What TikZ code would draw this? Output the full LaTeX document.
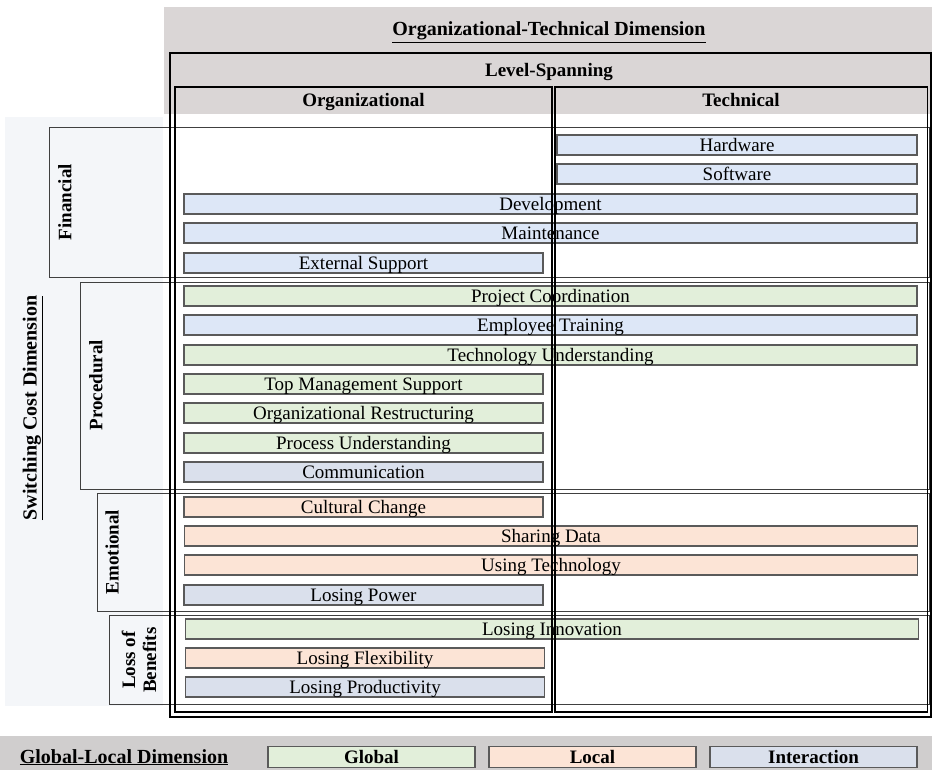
\documentclass[tikz,border=0pt]{standalone}
\usepackage{fontspec}
\setmainfont{Liberation Serif}
\definecolor{bandgray}{HTML}{DAD6D6}
\definecolor{keygray}{HTML}{D0CECE}
\definecolor{panel}{HTML}{F4F6F9}
\definecolor{finblue}{HTML}{DDE7F7}
\definecolor{globalgreen}{HTML}{E2EFDA}
\definecolor{localpink}{HTML}{FCE4D6}
\definecolor{interblue}{HTML}{DAE0EC}
\definecolor{barline}{HTML}{5A5A5A}
\definecolor{rowline}{HTML}{404040}
\begin{document}
\begin{tikzpicture}[x=1pt,y=-1pt,
  bar/.style={draw=barline, line width=1.3pt, inner sep=0pt, minimum height=20pt,
    text height=14.5pt, text depth=1pt, font=\fontsize{19}{20}\selectfont},
  fullbar/.style={bar, minimum width=733pt},
  orgbar/.style={bar, minimum width=359pt},
  techbar/.style={bar, minimum width=360pt},
  fin/.style={fill=finblue},
  glob/.style={fill=globalgreen},
  loc/.style={fill=localpink},
  inter/.style={fill=interblue},
  head/.style={font=\bfseries\fontsize{19}{21}\selectfont, inner sep=0pt,
    text height=14pt, text depth=2pt},
  bighead/.style={head, font=\bfseries\fontsize{20}{22}\selectfont},
  rowlabel/.style={font=\bfseries\fontsize{19}{21}\selectfont, inner sep=0pt, rotate=90, align=center},
  rowbox/.style={draw=rowline, line width=0.8pt},
  colbox/.style={draw=black, line width=1.4pt},
  keybox/.style={draw=barline, line width=1.3pt, minimum width=207pt, minimum height=21pt,
    inner sep=0pt, text height=14pt, text depth=1pt, font=\bfseries\fontsize{19}{20}\selectfont}
]
\useasboundingbox (0,0) rectangle (932,770);

% background panels
\fill[bandgray] (164,7) rectangle (932,114);
\fill[panel] (5,117) rectangle (163,706);
\fill[keygray] (0,736) rectangle (932,770);

% headings of the organizational-technical dimension
\node[bighead] (title) at (549,30) {\underline{Organizational-Technical Dimension}};
\node[head] (lspan) at (549,71) {Level-Spanning};
\node[head] (orghd) at (363.5,101) {Organizational};
\node[head] (techhd) at (741,101) {Technical};

% switching cost dimension and its rows
\node[rowlabel, font=\bfseries\fontsize{20}{22}\selectfont] (scd) at (33,408) {\underline{Switching Cost Dimension}};
\draw[rowbox] (49,127) rectangle (929,277);
\draw[rowbox] (80,282) rectangle (929,489);
\draw[rowbox] (97,493) rectangle (929,611);
\draw[rowbox] (109,615) rectangle (929,704);
\node[rowlabel] (fin) at (65,202) {Financial};
\node[rowlabel] (proc) at (96,385) {Procedural};
\node[rowlabel] (emo) at (112,552) {Emotional};
\node[rowlabel] (lob) at (139,660) {Loss of\\Benefits};

% financial
\node[techbar, fin] (hw) at (737,145) {Hardware};
\node[techbar, fin] (sw) at (737,174) {Software};
\node[fullbar, fin] (dev) at (550.5,204) {Development};
\node[fullbar, fin] (mnt) at (550.5,233) {Maintenance};
\node[orgbar, fin] (ext) at (363.5,263) {External Support};
% procedural
\node[fullbar, glob] (pc) at (550.5,296) {Project Coordination};
\node[fullbar, fin] (et) at (550.5,325) {Employee Training};
\node[fullbar, glob] (tu) at (550.5,355) {Technology Understanding};
\node[orgbar, glob] (tms) at (363.5,384) {Top Management Support};
\node[orgbar, glob] (ors) at (363.5,413) {Organizational Restructuring};
\node[orgbar, glob] (pu) at (363.5,443) {Process Understanding};
\node[orgbar, inter] (com) at (363.5,472) {Communication};
% emotional
\node[orgbar, loc] (cc) at (363.5,507) {Cultural Change};
\node[fullbar, loc] (sd) at (551,536) {Sharing Data};
\node[fullbar, loc] (ut) at (551,565) {Using Technology};
\node[orgbar, inter] (lp) at (363.5,595) {Losing Power};
% loss of benefits
\node[fullbar, glob] (li) at (552,629) {Losing Innovation};
\node[orgbar, loc] (lf) at (365,658) {Losing Flexibility};
\node[orgbar, inter] (lpr) at (365,687) {Losing Productivity};

% level-spanning frame and the two columns, drawn over the bars
\draw[colbox] (170,53) rectangle (931,717);
\draw[colbox] (175,87) rectangle (552,712);
\draw[colbox] (555,87) rectangle (927.5,712);

% global-local key
\node[bighead] (gld) at (124,757) {\underline{Global-Local Dimension}};
\node[keybox, fill=globalgreen] (kg) at (371.5,757) {Global};
\node[keybox, fill=localpink] (kl) at (592.5,757) {Local};
\node[keybox, fill=interblue] (ki) at (813.5,757) {Interaction};
\end{tikzpicture}
\end{document}
